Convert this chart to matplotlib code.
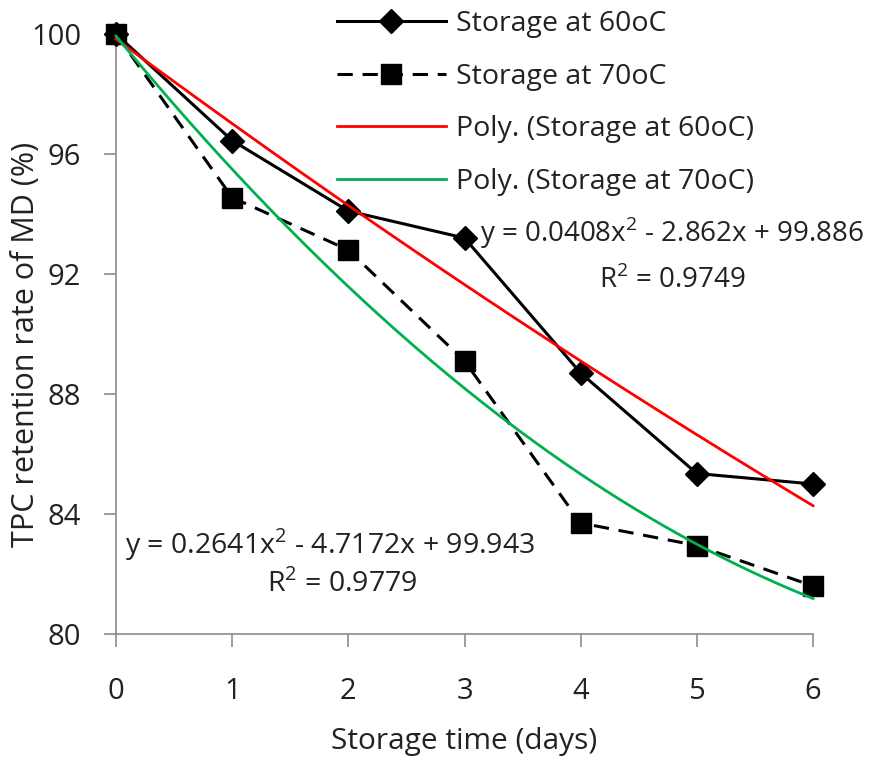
import matplotlib
matplotlib.use("Agg")
import matplotlib.pyplot as plt
import numpy as np
from matplotlib import font_manager

# ---------------------------------------------------------------------------
# Data
# ---------------------------------------------------------------------------

days = [0, 1, 2, 3, 4, 5, 6]
storage_60 = [100.0, 96.45, 94.1, 93.2, 88.7, 85.35, 85.0]
storage_70 = [100.0, 94.55, 92.8, 89.1, 83.7, 82.95, 81.6]

labels = ["Storage at 60oC", "Storage at 70oC",
          "Poly. (Storage at 60oC)", "Poly. (Storage at 70oC)"]
eq_60 = ["y = 0.0408x$^2$ - 2.862x + 99.886", "R$^2$ = 0.9749"]
eq_70 = ["y = 0.2641x$^2$ - 4.7172x + 99.943", "R$^2$ = 0.9779"]

y_ticks = [80, 84, 88, 92, 96, 100]

# ---------------------------------------------------------------------------
# Font: a Calibri-like humanist sans
# ---------------------------------------------------------------------------

available = {f.name for f in font_manager.fontManager.ttflist}
family = [f for f in ["Open Sans", "DejaVu Sans"] if f in available]
plt.rcParams["font.family"] = family
plt.rcParams["mathtext.fontset"] = "custom"
plt.rcParams["mathtext.rm"] = family[0]

TEXT = "#222222"

# ---------------------------------------------------------------------------
# Figure
# ---------------------------------------------------------------------------

fig = plt.figure(figsize=(8.69, 7.65), dpi=100)
ax = fig.add_axes([116 / 869, 1 - 634 / 765, 697 / 869, 600 / 765])

ax.plot(days, storage_60, "-", color="black", linewidth=2.2, marker="D",
        markersize=12, label=labels[0], clip_on=False, zorder=3)
ax.plot(days, storage_70, "--", color="black", linewidth=2.2, marker="s",
        markersize=14, dashes=(5, 3.2), label=labels[1], clip_on=False, zorder=4)

# second-order polynomial trendlines, fitted to the series
x_fine = np.linspace(0, 6, 200)
fit_60 = np.polyfit(days, storage_60, 2)
fit_70 = np.polyfit(days, storage_70, 2)
ax.plot(x_fine, np.polyval(fit_60, x_fine), color="#FF0000", linewidth=2.0,
        label=labels[2], clip_on=False, zorder=5)
ax.plot(x_fine, np.polyval(fit_70, x_fine), color="#00B050", linewidth=2.0,
        label=labels[3], clip_on=False, zorder=5)

ax.set_xlim(0, 6)
ax.set_ylim(80, 100)
ax.set_yticks(y_ticks)
ax.set_xticks(days)

for side in ["top", "right"]:
    ax.spines[side].set_visible(False)
for side in ["left", "bottom"]:
    ax.spines[side].set_color("#8c8c8c")
    ax.spines[side].set_linewidth(1.2)

ax.tick_params(axis="both", direction="out", length=9, width=1.2, color="#8c8c8c",
               labelsize=21, labelcolor=TEXT)
ax.tick_params(axis="x", pad=22)
ax.tick_params(axis="y", pad=16)

ax.set_xlabel("Storage time (days)", fontsize=21.5, color=TEXT, labelpad=15)
ax.set_ylabel("TPC retention rate of MD (%)", fontsize=22, color=TEXT)
ax.yaxis.set_label_coords(-0.108, 0.483)

ax.text(0.522, 0.668, eq_60[0], transform=ax.transAxes, fontsize=20, color=TEXT,
        ha="left", va="center")
ax.text(0.798, 0.59, eq_60[1], transform=ax.transAxes, fontsize=20, color=TEXT,
        ha="center", va="center")
ax.text(0.013, 0.148, eq_70[0], transform=ax.transAxes, fontsize=20.5, color=TEXT,
        ha="left", va="center")
ax.text(0.324, 0.082, eq_70[1], transform=ax.transAxes, fontsize=20.5, color=TEXT,
        ha="center", va="center")

ax.legend(loc="upper left", bbox_to_anchor=(326 / 869, 1 + 1 / 765),
          bbox_transform=fig.transFigure, frameon=False, fontsize=20.5,
          handlelength=3.8, handletextpad=0.38, labelspacing=0.86, borderaxespad=0,
          labelcolor=TEXT)

fig.savefig("out.png", dpi=100)
